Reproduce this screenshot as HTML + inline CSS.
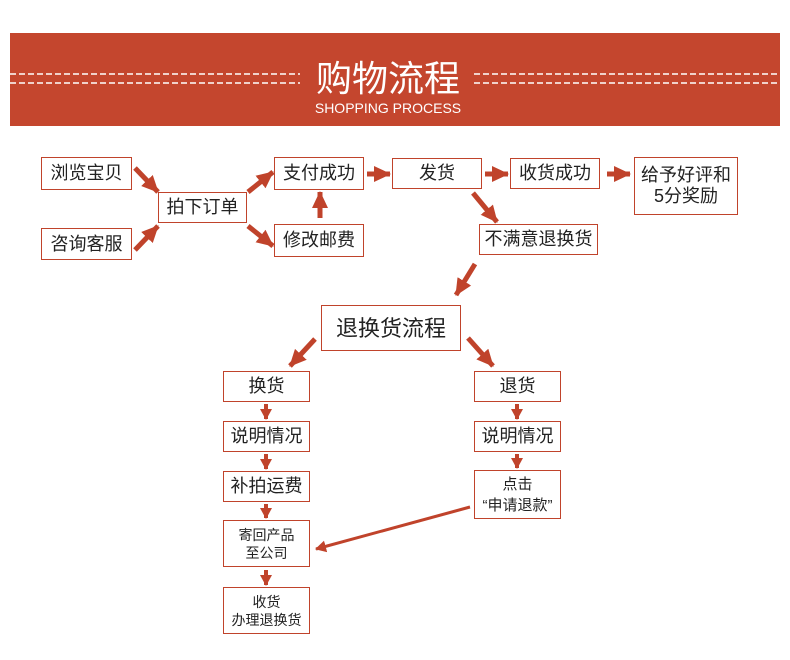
<!DOCTYPE html>
<html><head><meta charset="utf-8"><style>
body{margin:0;width:790px;height:660px;background:#fff;position:relative;overflow:hidden;font-family:"Liberation Sans","Noto Sans CJK SC",sans-serif;}
.b{position:absolute;box-sizing:border-box;border:1.5px solid #c0432b;background:#fff;display:flex;align-items:center;justify-content:center;text-align:center;color:#222;font-size:18px;line-height:21px;}
.s{font-size:14px;line-height:18px;}
</style></head><body>
<div style="position:absolute;left:10px;top:33px;width:770px;height:93px;background:#c4462e;"></div>
<svg style="position:absolute;left:0;top:0" width="790" height="660">
<defs><marker id="a" markerUnits="userSpaceOnUse" markerWidth="18" markerHeight="18" refX="16" refY="9" orient="auto"><path d="M0,1 L17,9 L0,17 z" fill="#c0432b"/></marker>
<marker id="m" markerUnits="userSpaceOnUse" markerWidth="12" markerHeight="12" refX="10" refY="6" orient="auto"><path d="M0,0 L11,6 L0,12 z" fill="#c0432b"/></marker></defs>
<g stroke="#fff" stroke-width="1.5" stroke-dasharray="6,3">
<line x1="10" y1="74" x2="300" y2="74"/><line x1="10" y1="83" x2="300" y2="83"/>
<line x1="474" y1="74" x2="780" y2="74"/><line x1="474" y1="83" x2="780" y2="83"/></g>
<text x="388" y="91" text-anchor="middle" fill="#fff" font-size="36" font-family="Noto Sans CJK SC,sans-serif">购物流程</text>
<text x="388" y="113" text-anchor="middle" fill="#fff" font-size="14" font-family="Liberation Sans,sans-serif">SHOPPING PROCESS</text>
<g stroke="#c0432b" stroke-width="5" marker-end="url(#a)">
<line x1="135" y1="168" x2="158" y2="192"/>
<line x1="135" y1="250" x2="158" y2="226"/>
<line x1="248" y1="192" x2="273" y2="172"/>
<line x1="248" y1="226" x2="273" y2="246"/>
<line x1="320" y1="218" x2="320" y2="192"/>
<line x1="367" y1="174" x2="390" y2="174"/>
<line x1="485" y1="174" x2="508" y2="174"/>
<line x1="607" y1="174" x2="630" y2="174"/>
<line x1="473" y1="193" x2="497" y2="222"/>
<line x1="475" y1="264" x2="456" y2="295"/>
<line x1="315" y1="339" x2="290" y2="366"/>
<line x1="468" y1="338" x2="493" y2="366"/>
</g>
<line x1="470" y1="507" x2="316" y2="549" stroke="#c0432b" stroke-width="3" marker-end="url(#m)"/>
<g stroke="#c0432b" stroke-width="4" marker-end="url(#m)">
<line x1="266" y1="404" x2="266" y2="419"/><line x1="266" y1="454" x2="266" y2="469"/>
<line x1="266" y1="504" x2="266" y2="518"/><line x1="266" y1="570" x2="266" y2="585"/>
<line x1="517" y1="404" x2="517" y2="419"/><line x1="517" y1="454" x2="517" y2="468"/>
</g>
</svg>
<div class="b" style="left:41px;top:157px;width:91px;height:33px">浏览宝贝</div>
<div class="b" style="left:41px;top:228px;width:91px;height:32px">咨询客服</div>
<div class="b" style="left:158px;top:192px;width:89px;height:31px">拍下订单</div>
<div class="b" style="left:274px;top:157px;width:90px;height:33px">支付成功</div>
<div class="b" style="left:274px;top:224px;width:90px;height:33px">修改邮费</div>
<div class="b" style="left:392px;top:158px;width:90px;height:31px">发货</div>
<div class="b" style="left:510px;top:158px;width:90px;height:31px">收货成功</div>
<div class="b" style="left:634px;top:157px;width:104px;height:58px">给予好评和<br>5分奖励</div>
<div class="b" style="left:479px;top:224px;width:119px;height:31px">不满意退换货</div>
<div class="b" style="left:321px;top:305px;width:140px;height:46px;font-size:22px">退换货流程</div>
<div class="b" style="left:223px;top:371px;width:87px;height:31px">换货</div>
<div class="b" style="left:223px;top:421px;width:87px;height:31px">说明情况</div>
<div class="b" style="left:223px;top:471px;width:87px;height:31px">补拍运费</div>
<div class="b s" style="left:223px;top:520px;width:87px;height:47px">寄回产品<br>至公司</div>
<div class="b s" style="left:223px;top:587px;width:87px;height:47px">收货<br>办理退换货</div>
<div class="b" style="left:474px;top:371px;width:87px;height:31px">退货</div>
<div class="b" style="left:474px;top:421px;width:87px;height:31px">说明情况</div>
<div class="b" style="left:474px;top:470px;width:87px;height:49px;font-size:15px">点击<br>“申请退款”</div>
</body></html>
